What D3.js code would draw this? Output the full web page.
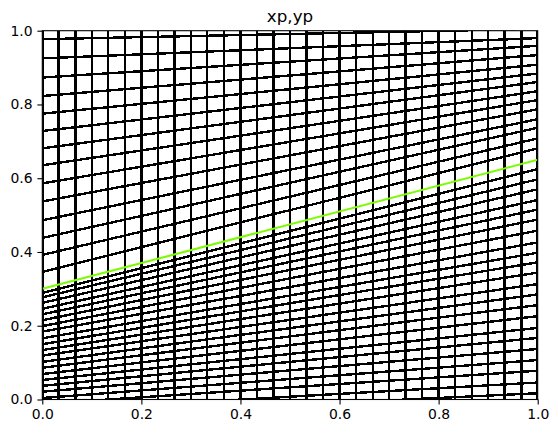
<!DOCTYPE html>
<html>
<head>
<meta charset="utf-8">
<script src="https://cdn.jsdelivr.net/npm/d3@7"></script>
<style>
  body { margin: 0; background: #fff; }
  svg { display: block; font-family: "DejaVu Sans", sans-serif; }
</style>
</head>
<body>
<div id="chart"></div>
<script>
// grid columns (x positions of the vertical lines)
const columns = [0, 0.033, 0.067, 0.1, 0.133, 0.167, 0.2, 0.233, 0.267, 0.3,
  0.333, 0.367, 0.4, 0.433, 0.467, 0.5, 0.533, 0.567, 0.6, 0.633, 0.667,
  0.7, 0.733, 0.767, 0.8, 0.833, 0.867, 0.9, 0.933, 0.967, 1]

// slanted rows below the green line: value at x=0 and at x=1
const lowerLeft = [0.289, 0.277, 0.262, 0.246, 0.231, 0.215, 0.199, 0.184,
  0.166, 0.15, 0.134, 0.119, 0.102, 0.086, 0.069, 0.053, 0.037, 0.021,
  0.004, -0.012, -0.031, -0.047]
const lowerRight = [0.625, 0.597, 0.57, 0.541, 0.515, 0.488, 0.458, 0.426,
  0.398, 0.372, 0.344, 0.313, 0.285, 0.256, 0.226, 0.194, 0.167, 0.137,
  0.107, 0.078, 0.046, 0.017]

// slanted rows above the green line
const upperLeft = [0.346, 0.392, 0.438, 0.486, 0.537, 0.586, 0.635, 0.681,
  0.728, 0.775, 0.823, 0.873, 0.925, 0.977]
const upperRight = [0.681, 0.708, 0.737, 0.76, 0.787, 0.812, 0.836, 0.861,
  0.884, 0.908, 0.934, 0.959, 0.98, 1.005]

// green interface line
const interfaceLine = [[0, 0.3], [1, 0.65]]

const ticks = [0, 0.2, 0.4, 0.6, 0.8, 1]
const title = 'xp,yp'

const width = 558
const height = 433
const margin = {left: 42.3, top: 30.7, right: 558 - 537.7, bottom: 433 - 399.5}
const innerW = width - margin.left - margin.right
const innerH = height - margin.top - margin.bottom

const x = d3.scaleLinear().domain([0, 1]).range([0, innerW])
const y = d3.scaleLinear().domain([0, 1]).range([innerH, 0])
const line = d3.line().x(d => x(d[0])).y(d => y(d[1]))

const svg = d3.select('#chart')
  .append('svg')
  .attr('width', width)
  .attr('height', height)

svg.append('defs')
  .append('clipPath')
  .attr('id', 'clip')
  .append('rect')
  .attr('width', innerW)
  .attr('height', innerH)

const g = svg.append('g')
  .attr('transform', 'translate(' + margin.left + ',' + margin.top + ')')

const plot = g.append('g').attr('clip-path', 'url(#clip)')

const rows = [
  ...lowerLeft.map((v, i) => [[0, v], [1, lowerRight[i]]]),
  ...upperLeft.map((v, i) => [[0, v], [1, upperRight[i]]])
]

// black mesh, drawn without antialiasing like the reference
const drawLines = (cls, data) => plot.selectAll('path.' + cls)
  .data(data)
  .enter()
  .append('path')
  .attr('class', cls)
  .attr('d', line)
  .attr('fill', 'none')
  .attr('stroke', '#000')
  .attr('stroke-width', 2.4)
  .attr('shape-rendering', 'crispEdges')

drawLines('row', rows)
drawLines('col', columns.map(c => [[c, 0], [c, 1]]))

plot.append('path')
  .datum(interfaceLine)
  .attr('d', line)
  .attr('fill', 'none')
  .attr('stroke', '#7cfc00')
  .attr('stroke-width', 2.08)

// axes
const fmt = d3.format('.1f')
const xAxis = g.append('g')
  .attr('transform', 'translate(0,' + innerH + ')')
  .call(d3.axisBottom(x).tickValues(ticks).tickFormat(fmt).tickSize(4.9).tickPadding(4.9))
const yAxis = g.append('g')
  .call(d3.axisLeft(y).tickValues(ticks).tickFormat(fmt).tickSize(4.9).tickPadding(4.9))

for (const a of [xAxis, yAxis]) {
  a.select('.domain').remove()
  a.selectAll('line').attr('stroke', '#000').attr('stroke-width', 1.1)
  a.selectAll('text').attr('fill', '#000').style('font-size', '13.9px')
    .style('font-family', '"DejaVu Sans", sans-serif')
}

g.append('rect')
  .attr('width', innerW)
  .attr('height', innerH)
  .attr('fill', 'none')
  .attr('stroke', '#000')
  .attr('stroke-width', 1.1)

g.append('text')
  .attr('x', innerW / 2)
  .attr('y', -8.3)
  .attr('text-anchor', 'middle')
  .style('font-size', '16.7px')
  .text(title)
</script>
</body>
</html>
